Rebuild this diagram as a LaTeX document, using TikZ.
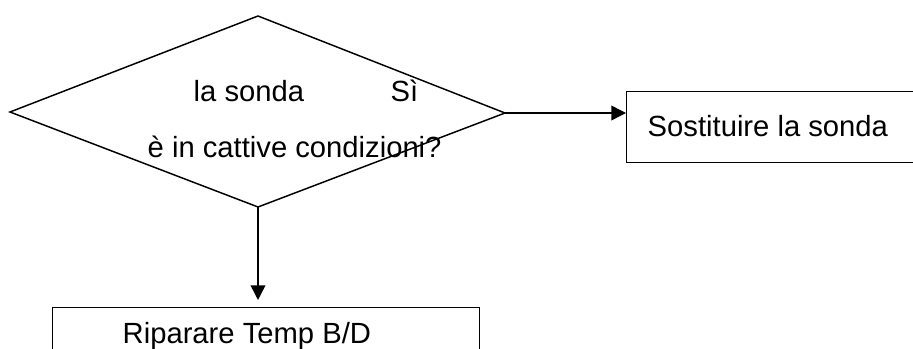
\documentclass[tikz,border=0pt]{standalone}
\usepackage{fontspec}
\setmainfont{Liberation Sans}
\usetikzlibrary{arrows.meta}
\begin{document}
\begin{tikzpicture}[x=0.75pt,y=-0.75pt, line width=1.1pt,
  txt/.style={font=\fontsize{21.9}{26}\selectfont, inner sep=0pt},
  boxnode/.style={draw, rectangle, inner sep=0pt},
  arr/.style={-{Triangle[length=11pt,width=11pt]}}]
\useasboundingbox (0,0) rectangle (913,349);
\clip (0,0) rectangle (913,349);
\coordinate (dL) at (10,112);
\coordinate (dT) at (258,16);
\coordinate (dR) at (505,113);
\coordinate (dB) at (258,207);
\draw (dL) -- (dT) -- (dR) -- (dB) -- cycle;
\node[txt, anchor=base west] (q1) at (193,102) {la sonda};
\node[txt, anchor=base west] (si) at (390,102) {Sì};
\node[txt, anchor=base west] (q2) at (147,157) {è in cattive condizioni?};
\node[boxnode, anchor=north west, minimum width=225pt, minimum height=53.25pt] (sost) at (626,91) {};
\node[txt, anchor=base west] (sosttxt) at (647,137) {Sostituire la sonda};
\node[boxnode, anchor=north west, minimum width=320.25pt, minimum height=53.25pt] (rip) at (52,307) {};
\node[txt, anchor=base west] (riptxt) at (122,343) {Riparare Temp B/D};
\draw[arr] (dR) -- (dR -| sost.west);
\draw[arr, shorten >=5.25pt] (dB) -- (dB |- rip.north);
\end{tikzpicture}
\end{document}
